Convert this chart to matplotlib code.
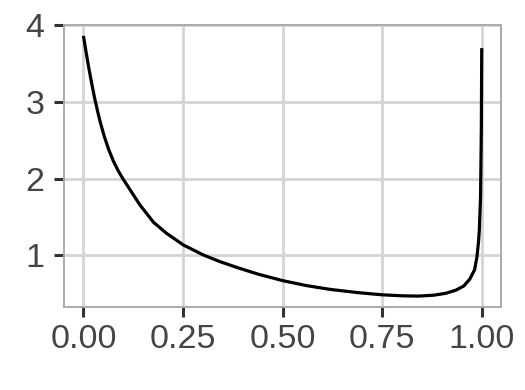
import numpy as np
import matplotlib
matplotlib.use("Agg")
from matplotlib import pyplot as plt

# values
x_vals = [0.0, 0.006, 0.0125, 0.02, 0.0276, 0.035, 0.042, 0.052, 0.063,
          0.075, 0.088, 0.10, 0.117, 0.142, 0.176, 0.209, 0.251, 0.301,
          0.343, 0.389, 0.44, 0.50, 0.56, 0.62, 0.69, 0.75, 0.80, 0.84,
          0.88, 0.91, 0.935, 0.955, 0.97, 0.982, 0.988, 0.992, 0.994,
          0.997, 0.999, 1.0]
y_vals = [3.86, 3.67, 3.47, 3.26, 3.06, 2.89, 2.74, 2.555, 2.385,
          2.23, 2.095, 1.99, 1.855, 1.655, 1.43, 1.285, 1.134, 1.004,
          0.917, 0.835, 0.752, 0.67, 0.605, 0.555, 0.513, 0.485, 0.472,
          0.468, 0.48, 0.505, 0.545, 0.60, 0.69, 0.81, 0.98, 1.18, 1.33,
          1.76, 2.63, 3.70]
x_ticks = [0.0, 0.25, 0.5, 0.75, 1.0]
x_labels = ["0.00", "0.25", "0.50", "0.75", "1.00"]
y_ticks = [1, 2, 3, 4]

plt.rcParams['font.family'] = ['Liberation Sans', 'DejaVu Sans']

fig = plt.figure(figsize=(5.25, 3.9), dpi=100)
ax = fig.add_axes([0.1225, 0.2136, 0.954 - 0.1225, 0.937 - 0.2136])

ax.plot(x_vals, y_vals, color="black", lw=2.3, solid_joinstyle="round",
        solid_capstyle="butt", zorder=3)

ax.set_xlim(-0.048, 1.048)
ax.set_ylim(0.33, 4.007)
ax.set_xticks(x_ticks)
ax.set_xticklabels(x_labels)
ax.set_yticks(y_ticks)

ax.grid(True, color="#d4d4d4", lw=2.0)
ax.set_axisbelow(True)
for s in ax.spines.values():
    s.set_color("#ababab")
    s.set_linewidth(1.4)

ax.tick_params(axis="both", colors="#333333", length=7.5, width=2.2,
               labelsize=24.5, labelcolor="#444444")
ax.tick_params(axis="y", pad=7)
ax.tick_params(axis="x", pad=5)

fig.savefig("out.png", dpi=100)
